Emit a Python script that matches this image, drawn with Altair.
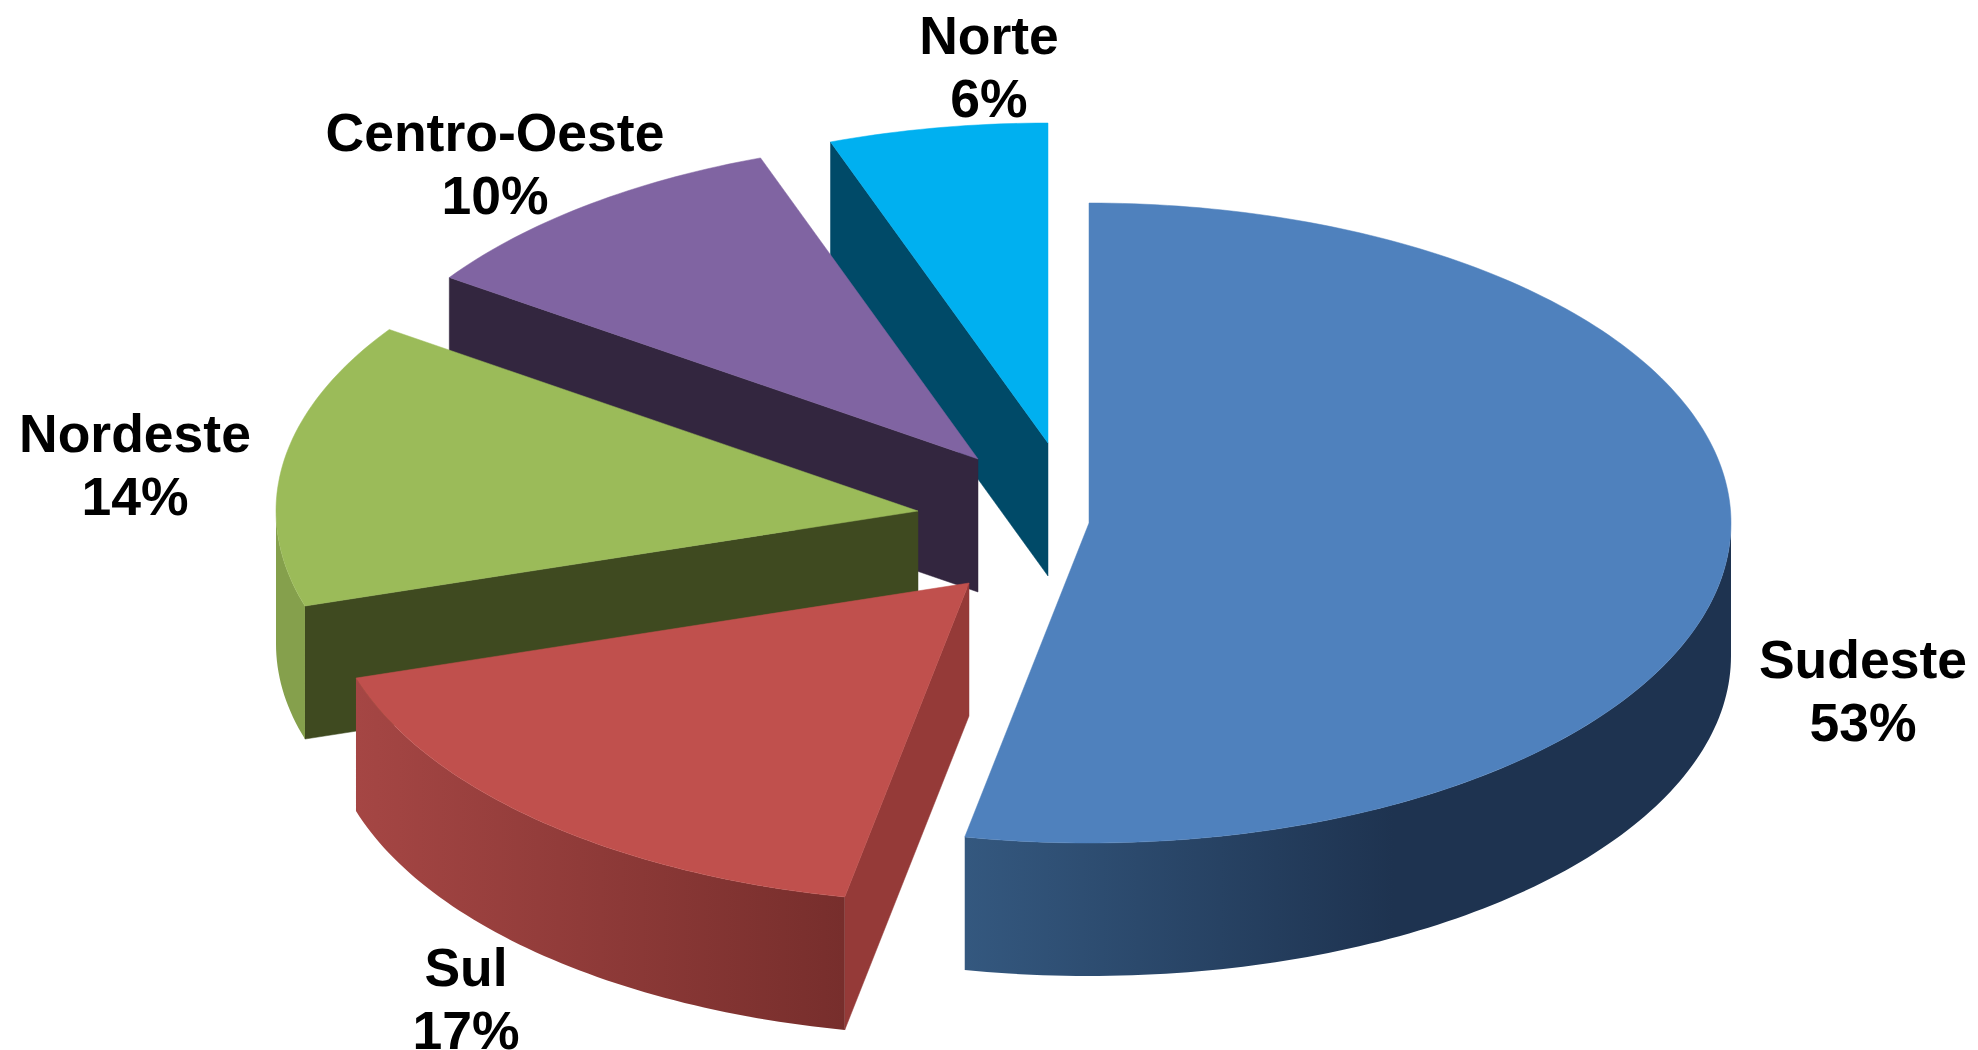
import math
import altair as alt
import pandas as pd

# Data
regions = ["Sudeste", "Sul", "Nordeste", "Centro-Oeste", "Norte"]
shares = [53.1, 17.1, 14.4, 9.9, 5.5]
percent_labels = ["53%", "17%", "14%", "10%", "6%"]

# Styles
top_colors = ["#4f81bd", "#c0504d", "#9bbb59", "#8064a2", "#00b0f0"]
cut_colors = [None, "#953a38", "#3f4a20", "#33263f", "#004a68"]
side_stops = [
    [("#34587f", 0), ("#1e3350", 0.56), ("#1e3350", 1)],
    [("#a54644", 0), ("#772e2c", 1)],
    [("#85a04c", 0), ("#85a04c", 1)],
]

# Layout of the tilted, exploded pie, in image pixels
RX, RY, DEPTH = 642, 320, 133
pull_x = [1089, 969, 918, 978, 1048]
pull_y = [523, 583, 511, 459, 443]
label_x = [1863, 466, 135, 495, 989]
label_y = [678, 986, 452, 151, 54]
LINE_GAP = 63
FONT_SIZE = 53.5

X = alt.X("x:Q", scale=alt.Scale(domain=[8, 1970], nice=False, zero=False), axis=None)
Y = alt.Y("y:Q", scale=alt.Scale(domain=[1050, 8], nice=False, zero=False), axis=None)


def rim(cx, cy, start, end, drop=0):
    steps = max(2, int(abs(end - start) / 1.0))
    pts = []
    for k in range(steps + 1):
        t = math.radians(start + (end - start) * k / steps)
        pts.append((cx + RX * math.sin(t), cy - RY * math.cos(t) + drop))
    return pts


def poly(pts, **mark):
    df = pd.DataFrame({"x": [p[0] for p in pts], "y": [p[1] for p in pts], "i": range(len(pts))})
    return alt.Chart(df).mark_line(interpolate="linear", **mark).encode(x=X, y=Y, order=alt.Order("i:Q"))


def gradient(stops):
    return alt.Gradient(
        gradient="linear", x1=0, y1=0, x2=1, y2=0,
        stops=[alt.GradientStop(color=c, offset=o) for c, o in stops],
    )


edges = [0.0]
for s in shares:
    edges.append(edges[-1] + s / sum(shares) * 360)

layers = {}
for n in range(len(regions)):
    cx, cy = pull_x[n], pull_y[n]
    a0, a1 = edges[n], edges[n + 1]
    group = []
    # radial cut face at the slice's leading edge
    if cut_colors[n]:
        e = rim(cx, cy, a0, a0)[0]
        face = [(cx, cy), e, (e[0], e[1] + DEPTH), (cx, cy + DEPTH), (cx, cy)]
        group.append(poly(face, fill=cut_colors[n], stroke=cut_colors[n], strokeWidth=0.5))
    # outer curved wall, only where it faces the viewer
    lo, hi = max(a0, 90), min(a1, 270)
    if lo < hi:
        upper = rim(cx, cy, lo, hi)
        lower = rim(cx, cy, hi, lo, DEPTH)
        group.append(poly(upper + lower + upper[:1], fill=gradient(side_stops[n]), strokeWidth=0))
    # top surface
    top = [(cx, cy)] + rim(cx, cy, a0, a1) + [(cx, cy)]
    group.append(poly(top, fill=top_colors[n], stroke=top_colors[n], strokeWidth=0.5))
    layers[n] = group

charts = []
for n in [4, 3, 2, 1, 0]:
    charts += layers[n]

text_rows = []
for n in range(len(regions)):
    text_rows.append({"x": label_x[n], "y": label_y[n], "t": regions[n]})
    text_rows.append({"x": label_x[n], "y": label_y[n] + LINE_GAP, "t": percent_labels[n]})
labels = alt.Chart(pd.DataFrame(text_rows)).mark_text(
    font="Liberation Sans", fontWeight="bold", fontSize=FONT_SIZE,
    align="center", baseline="alphabetic", color="black",
).encode(x=X, y=Y, text="t:N")

chart = alt.layer(*charts, labels).properties(
    width=1962, height=1042, padding=0, background="white",
    autosize=alt.AutoSizeParams(type="none"),
).configure_view(stroke=None)

chart.save("out.html", embed_options={"renderer": "svg", "actions": False})
